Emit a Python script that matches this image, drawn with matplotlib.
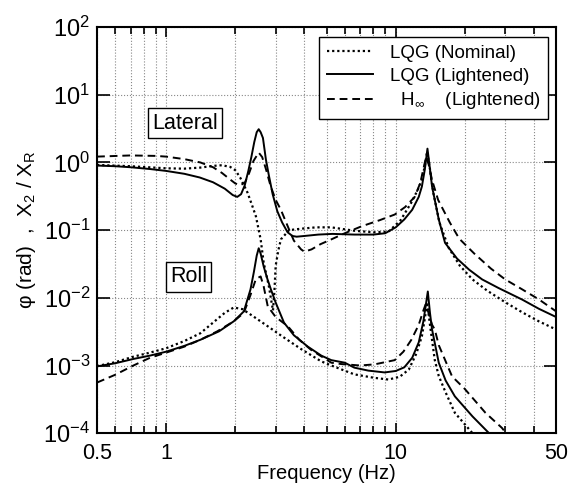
import numpy as np
import matplotlib
matplotlib.use("Agg")
import matplotlib.pyplot as plt
from matplotlib.ticker import FixedLocator, NullFormatter, FixedFormatter

plt.rcParams['font.family'] = ['Liberation Sans', 'DejaVu Sans']
plt.rcParams['mathtext.fontset'] = 'custom'
plt.rcParams['mathtext.rm'] = 'Liberation Sans'
plt.rcParams['mathtext.it'] = 'Liberation Sans:italic'
plt.rcParams['mathtext.bf'] = 'Liberation Sans:bold'

# ---------------- Lateral (X2 / XR) ----------------
lat_lqg_light_f = [0.5, 0.6, 0.7, 0.85, 1.0, 1.2, 1.4, 1.6, 1.8, 1.95, 2.04, 2.12, 2.2, 2.28,
                   2.35, 2.42, 2.48, 2.53, 2.58, 2.64, 2.72, 2.8, 2.91, 3.05, 3.2, 3.38, 3.55,
                   3.7, 4.0, 4.6, 5.3, 6.6, 8.0, 9.0, 10.0, 10.9, 11.8, 12.6, 13.0, 13.4, 13.75,
                   14.1, 14.4, 15.4, 16.4, 18.5, 20.9, 23.8, 28.0, 35.6, 42.0, 50.0]
lat_lqg_light = [0.90, 0.88, 0.85, 0.80, 0.75, 0.68, 0.60, 0.51, 0.41, 0.33, 0.31, 0.34, 0.46, 0.75,
                 1.2, 2.0, 2.8, 3.1, 2.8, 2.3, 1.1, 0.65, 0.34, 0.19, 0.13, 0.093, 0.082,
                 0.080, 0.082, 0.086, 0.088, 0.086, 0.086, 0.090, 0.11, 0.144, 0.20, 0.31, 0.44, 0.80, 1.6,
                 0.80, 0.44, 0.144, 0.065, 0.038, 0.026, 0.0187, 0.0140, 0.0094, 0.0069, 0.0052]

lat_lqg_nom_f = [0.5, 0.7, 1.0, 1.2, 1.41, 1.6, 1.75, 1.9, 2.0, 2.1, 2.26, 2.36, 2.46, 2.58,
                 2.66, 2.8, 2.88, 2.92, 2.96, 3.0, 3.08, 3.16, 3.43, 3.87, 4.5, 5.24, 6.6, 8.0,
                 9.3, 10.5, 11.7, 12.5, 13.0, 13.4, 13.7, 14.1, 14.6, 15.5, 17.0, 19.0, 21.6,
                 25.0, 30.0, 35.6, 42.0, 50.0]
lat_lqg_nom = [0.92, 0.88, 0.82, 0.81, 0.84, 0.89, 0.91, 0.86, 0.77, 0.60, 0.36, 0.24, 0.16, 0.073,
               0.033, 0.015, 0.0085, 0.0065, 0.012, 0.030, 0.050, 0.073, 0.10, 0.105, 0.11, 0.11, 0.098, 0.093,
               0.095, 0.14, 0.256, 0.40, 0.56, 0.90, 1.45, 0.80, 0.35, 0.13, 0.055, 0.030, 0.0187,
               0.0128, 0.0086, 0.0061, 0.0045, 0.0034]

lat_hinf_f = [0.5, 0.7, 0.9, 1.0, 1.2, 1.41, 1.6, 1.75, 1.9, 2.0, 2.1, 2.2, 2.3, 2.4, 2.53,
              2.62, 2.72, 2.85, 3.0, 3.16, 3.4, 3.6, 3.87, 4.0, 4.3, 4.7, 5.24, 6.0, 7.1, 8.5,
              9.9, 11.0, 12.1, 12.8, 13.3, 13.55, 13.9, 14.4, 15.3, 17.2, 18.9, 22.0, 26.0,
              30.0, 35.6, 42.0, 50.0]
lat_hinf = [1.22, 1.27, 1.25, 1.22, 1.12, 1.0, 0.85, 0.70, 0.56, 0.49, 0.46, 0.50, 0.70, 1.05, 1.4,
            1.2, 0.80, 0.45, 0.28, 0.20, 0.11, 0.07, 0.052, 0.048, 0.052, 0.062, 0.073, 0.09, 0.114, 0.14,
            0.17, 0.22, 0.31, 0.50, 0.90, 1.2, 0.95, 0.55, 0.28, 0.13, 0.075, 0.045, 0.027,
            0.0187, 0.0133, 0.0095, 0.0063]

# ---------------- Roll (phi, rad) ----------------
roll_lqg_light_f = [0.5, 0.6, 0.72, 0.85, 1.0, 1.2, 1.41, 1.7, 1.97, 2.18, 2.33, 2.41, 2.48, 2.53,
                    2.58, 2.66, 2.76, 2.86, 3.0, 3.26, 3.6, 4.14, 4.74, 5.24, 6.0, 6.6, 7.6, 8.95,
                    10.0, 10.9, 11.8, 12.6, 13.2, 13.5, 13.8, 14.1, 14.4, 15.4, 16.5, 18.1, 21.6,
                    25.5, 28.0]
roll_lqg_light = [9.7e-4, 1.08e-3, 1.25e-3, 1.4e-3, 1.6e-3, 1.95e-3, 2.4e-3, 3.2e-3, 4.5e-3, 6.3e-3,
                  0.0133, 0.024, 0.042, 0.054, 0.045, 0.029, 0.019, 0.0133, 0.0085, 0.0043, 0.0028,
                  0.0019, 0.0014, 0.0012, 0.0011, 9.3e-4, 8.4e-4, 7.9e-4, 8.3e-4, 9.4e-4, 1.3e-3,
                  2.2e-3, 4.5e-3, 7.5e-3, 0.0124, 6.0e-3, 3.4e-3, 1.1e-3, 6.0e-4, 3.5e-4, 1.77e-4,
                  1.0e-4, 8.0e-5]

roll_lqg_nom_f = [0.5, 0.6, 0.72, 0.85, 1.0, 1.2, 1.41, 1.6, 1.8, 1.97, 2.15, 2.4, 2.77, 3.2,
                  3.87, 4.74, 5.24, 6.6, 8.0, 9.3, 10.4, 11.4, 12.3, 13.0, 13.4, 13.7, 14.1, 14.8,
                  15.4, 16.5, 18.1, 21.6, 24.0]
roll_lqg_nom = [9.8e-4, 1.12e-3, 1.35e-3, 1.55e-3, 1.8e-3, 2.3e-3, 3.0e-3, 4.3e-3, 6.0e-3, 7.2e-3,
                6.8e-3, 5.3e-3, 3.8e-3, 2.7e-3, 1.75e-3, 1.15e-3, 1.0e-3, 7.4e-4, 6.6e-4, 6.2e-4,
                6.8e-4, 8.7e-4, 1.5e-3, 2.7e-3, 5.0e-3, 8.6e-3, 4.0e-3, 1.2e-3, 7.0e-4, 4.0e-4,
                2.0e-4, 1.0e-4, 7.0e-5]

roll_hinf_f = [0.5, 0.6, 0.72, 0.85, 1.0, 1.2, 1.41, 1.67, 1.97, 2.18, 2.33, 2.46, 2.53, 2.58,
               2.66, 2.77, 3.0, 3.39, 3.8, 4.28, 5.24, 5.8, 7.0, 8.1, 9.9, 10.8, 11.7, 12.6, 13.2,
               13.5, 13.9, 14.4, 14.8, 15.4, 17.6, 20.0, 24.6, 29.0, 31.0]
roll_hinf = [5.6e-4, 7.3e-4, 1.0e-3, 1.3e-3, 1.55e-3, 1.9e-3, 2.4e-3, 3.2e-3, 4.5e-3, 6.0e-3,
             0.011, 0.019, 0.020, 0.0207, 0.0147, 0.0075, 0.0052, 0.0038, 0.0024, 0.0017, 0.0011,
             1.05e-3, 1.0e-3, 1.04e-3, 1.2e-3, 1.6e-3, 2.4e-3, 4.0e-3, 6.5e-3, 8.0e-3, 6.0e-3,
             4.0e-3, 3.4e-3, 2.0e-3, 6.9e-4, 4.5e-4, 2.0e-4, 1.2e-4, 9.0e-5]

x_ticks = [0.5, 1, 10, 50]
x_ticklabels = ['0.5', '1', '10', '50']
x_minor = [0.6, 0.7, 0.8, 0.9, 2, 3, 4, 5, 6, 7, 8, 9, 20, 30, 40]

fig = plt.figure(figsize=(5.71, 4.84), dpi=100)
ax = fig.add_axes([0.170, 0.105, 0.804, 0.839])

dot = (0, (1, 1.3))
dash = (0, (4, 2.5))
lw = 1.4

ax.plot(lat_lqg_nom_f, lat_lqg_nom, color='black', lw=1.6, ls=dot, label='LQG (Nominal)')
ax.plot(lat_lqg_light_f, lat_lqg_light, color='black', lw=lw, ls='-', label='LQG (Lightened)')
ax.plot(lat_hinf_f, lat_hinf, color='black', lw=lw, ls=dash,
        label='  H$_\\infty$    (Lightened)')
ax.plot(roll_lqg_nom_f, roll_lqg_nom, color='black', lw=1.6, ls=dot)
ax.plot(roll_lqg_light_f, roll_lqg_light, color='black', lw=lw, ls='-')
ax.plot(roll_hinf_f, roll_hinf, color='black', lw=lw, ls=dash)

ax.set_xscale('log')
ax.set_yscale('log')
ax.set_xlim(0.5, 50)
ax.set_ylim(1e-4, 1e2)

ax.xaxis.set_major_locator(FixedLocator(x_ticks))
ax.xaxis.set_major_formatter(FixedFormatter(x_ticklabels))
ax.xaxis.set_minor_locator(FixedLocator(x_minor))
ax.xaxis.set_minor_formatter(NullFormatter())
ax.yaxis.set_major_locator(FixedLocator([1e-4, 1e-3, 1e-2, 1e-1, 1e0, 1e1, 1e2]))
ax.yaxis.set_minor_locator(FixedLocator([]))

ax.tick_params(axis='both', which='both', direction='in', top=True, right=True, width=1.2)
ax.tick_params(axis='y', which='major', length=9, labelsize=17, pad=5)
ax.tick_params(axis='x', which='major', length=7, labelsize=15.5, pad=7)
ax.tick_params(axis='x', which='minor', length=5)

ax.grid(True, which='both', axis='x', color='#888888', ls=':', lw=0.8)
ax.grid(True, which='major', axis='y', color='#888888', ls=':', lw=0.8)

for s in ax.spines.values():
    s.set_linewidth(1.5)

ax.set_xlabel('Frequency (Hz)', fontsize=14.5, labelpad=0)
ax.set_ylabel('φ (rad)  ,  X$_2$ / X$_\\mathrm{R}$', fontsize=15, labelpad=4)

box = dict(boxstyle='square,pad=0.2', fc='white', ec='black', lw=1)
ax.text(1.21, 3.8, 'Lateral', fontsize=15.5, ha='center', va='center', bbox=box)
ax.text(1.25, 0.0205, 'Roll', fontsize=15.5, ha='center', va='center', bbox=box)

leg = ax.legend(loc='upper right', bbox_to_anchor=(0.983, 0.975), fontsize=13.5,
                frameon=True, fancybox=False, edgecolor='black', framealpha=1,
                handlelength=2.5, borderaxespad=0, labelspacing=0.3, handletextpad=0.9)
leg.get_frame().set_linewidth(1.0)

fig.savefig('out.png', dpi=100)
